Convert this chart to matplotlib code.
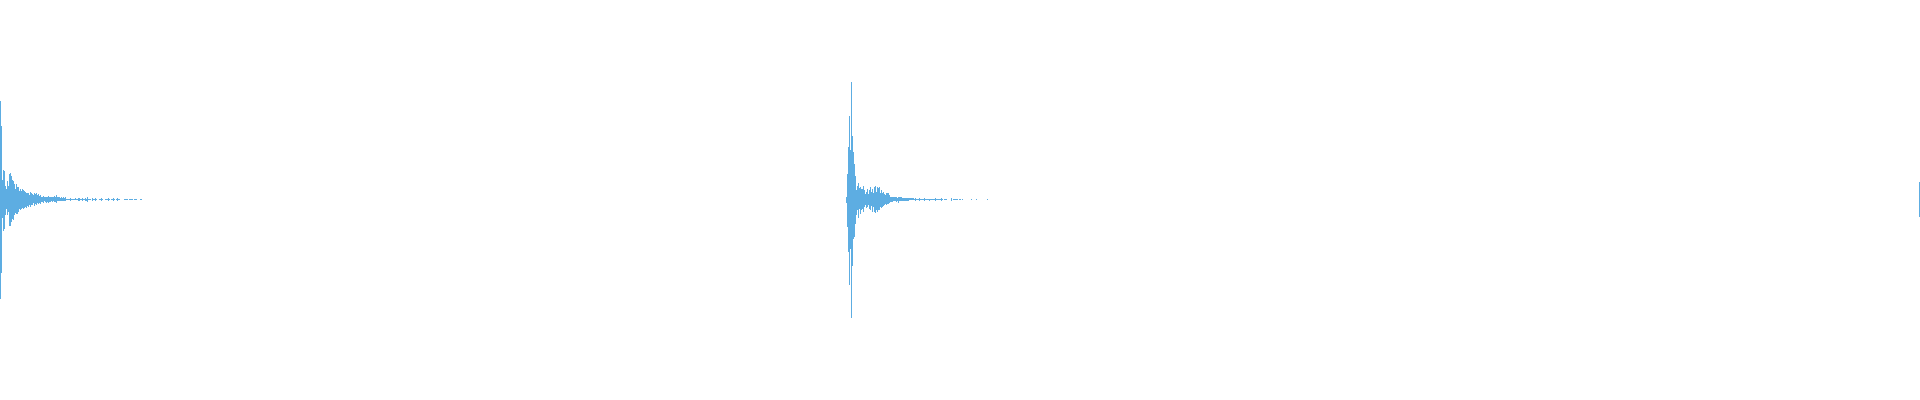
import numpy as np
import matplotlib
matplotlib.use("Agg")
import matplotlib.pyplot as plt

# waveform envelope, one value per drawn column, in percent of full scale
# (positive peak above the zero line, negative peak below it)
burst1_start = 0
burst1_pos = [
    49.2, 36.8, 10, 15, 14.5, 7, 5.5, 9.5, 7, 13,
    13.5, 12, 10, 9.5, 8, 5.5, 8, 6.5, 6.5, 4.5,
    5.5, 4.2, 5.2, 4.8, 4.2, 4, 3.5, 3.5, 3.5, 2.5,
    3.8, 3.1, 2.8, 2.2, 3.1, 2.8, 3.4, 2.2, 2.8, 1.8,
    2.2, 1.4, 1.1, 1.8, 1.1, 1.4, 1.1, 1.4, 1.9, 1.1,
    1.4, 1.1, 1.4, 1.1, 1.8, 1.4, 2.2, 1.1, 1.4, 1.1,
    0.8, 1.4, 0.9, 1.1, 0.9, 1.1, 0.4, 0.4, 0.4, 0.4,
    0.6, 0.4, 0.4, 0.4, 0.4, 0.6, 0.4, 0.4, 0.8, 0.8,
    0.4, 0.4, 0.8, 0.4, 0.4, 0.8, 0.4, 1.1, 0.4, 0.25,
    0.25, 0, 0.8, 0.25, 0.25, 0.6, 0.25, 0, 0, 0.25,
    0.25, 0.6, 0.25, 0, 0, 0.25, 0.25, 0.25, 0.6, 0.25,
    0, 0.25, 0.25, 0.6, 0.25, 0, 0.25, 0.6, 0.25, 0.25,
    0, 0, 0, 0, 0.25, 0.25, 0.25, 0.25, 0, 0.25,
    0.25, 0.25, 0.25, 0, 0.25, 0.25, 0.25, 0, 0, 0,
    0.25, 0.25,
]
burst1_neg = [
    49.5, 36.8, 9, 15.5, 14.5, 7.5, 4.5, 7.5, 6, 13,
    13, 11, 9.5, 10, 7.5, 6.5, 7, 7, 6, 4.5,
    5, 4.5, 4, 4.8, 4, 3.5, 4.2, 3, 3.5, 2.8,
    3.9, 2.9, 2.6, 1.9, 3.2, 2.2, 2.8, 1.9, 2.2, 1.6,
    2.2, 1.2, 1.1, 1.6, 0.9, 1.2, 1.6, 1.2, 1.9, 1.1,
    1.2, 0.9, 1.1, 0.9, 1.2, 1.1, 1.9, 0.9, 0.9, 0.8,
    0.6, 0.9, 0.6, 0.8, 0.6, 0.6, 0.3, 0.3, 0.3, 0.3,
    0.6, 0.3, 0.3, 0.3, 0.3, 0.4, 0.3, 0.3, 0.6, 0.6,
    0.3, 0.3, 0.6, 0.3, 0.3, 0.9, 0.6, 1.1, 0.4, 0.25,
    0.25, 0, 0.8, 0.25, 0.25, 0.6, 0.25, 0, 0, 0.25,
    0.25, 0.6, 0.25, 0, 0, 0.25, 0.25, 0.25, 0.6, 0.25,
    0, 0.25, 0.25, 0.6, 0.25, 0, 0.25, 0.6, 0.25, 0.25,
    0, 0, 0, 0, 0.25, 0.25, 0.25, 0.25, 0, 0.25,
    0.25, 0.25, 0.25, 0, 0.25, 0.25, 0.25, 0, 0, 0,
    0.25, 0.25,
]

burst2_start = 846
burst2_pos = [
    1.5, 13, 26.5, 42, 25, 59, 32, 24, 18, 12,
    5, 7, 8.5, 6, 6.5, 5.5, 5.5, 7, 4.8, 3,
    4, 5.5, 3, 4.8, 6.5, 4, 5.5, 3.5, 6.5, 6.8,
    3.9, 6.4, 5.6, 6.1, 3.1, 4.8, 3.1, 3.9, 2.8, 2.2,
    3.1, 3.4, 3.4, 2.2, 1.4, 1.4, 1.4, 1.1, 1.1, 1.1,
    1.4, 0.9, 1.2, 1.1, 1.1, 1.4, 0.8, 0.8, 0.8, 0.8,
    0.8, 0.8, 0.8, 0.6, 0.8, 0.8, 0.8, 0.8, 0.25, 0.9,
    0.25, 0.25, 0.25, 0.6, 0.25, 0.25, 0.25, 0.25, 0.6, 0.25,
    0.25, 0.25, 0.25, 0.5, 0.25, 0.25, 0.25, 0.25, 0.25, 0.6,
    0.25, 0.25, 0.25, 0.25, 0.25, 0.6, 0.25, 0, 0.25, 0.25,
    0.25, 0, 0, 0, 0, 0.75, 0, 0.25, 0.25, 0.25,
    0.25, 0.25, 0, 0.25, 0.25, 0, 0.25, 0, 0, 0,
    0, 0, 0, 0, 0, 0.25, 0, 0, 0, 0,
    0.25, 0, 0, 0, 0, 0, 0, 0, 0, 0,
    0, 0.25,
]
burst2_neg = [
    1.5, 13.5, 26, 42.5, 24.5, 59, 33, 19.5, 18.5, 12,
    7.5, 5, 9, 4.5, 7, 5, 4.5, 6, 3.5, 2.5,
    4, 3.5, 2.8, 4.5, 5.2, 3, 6, 3.5, 6, 6.6,
    5.2, 6.1, 5.2, 5.2, 3.6, 4.4, 3.6, 3.2, 2.9, 2.2,
    2.8, 2.2, 2.2, 1.6, 1.1, 1.1, 1.1, 0.8, 0.8, 0.6,
    1.4, 0.6, 1.6, 0.6, 0.6, 0.9, 0.6, 0.6, 0.6, 0.6,
    0.6, 0.6, 0.6, 0.4, 0.4, 0.4, 0.4, 0.4, 0.4, 0.8,
    0.25, 0.25, 0.25, 0.6, 0.25, 0.25, 0.25, 0.25, 0.6, 0.25,
    0.25, 0.25, 0.25, 0.5, 0.25, 0.25, 0.25, 0.25, 0.25, 0.6,
    0.25, 0.25, 0.25, 0.25, 0.25, 0.6, 0.25, 0, 0.25, 0.25,
    0.25, 0, 0, 0, 0, 0.75, 0, 0.25, 0.25, 0.25,
    0.25, 0.25, 0, 0.25, 0.25, 0, 0.25, 0, 0, 0,
    0, 0, 0, 0, 0, 0.25, 0, 0, 0, 0,
    0.25, 0, 0, 0, 0, 0, 0, 0, 0, 0,
    0, 0.25,
]

burst3_start = 1919
burst3_pos = [8.75]
burst3_neg = [8.75]

n_columns = 1920
WAVE = "#5DADE2"

fig = plt.figure(figsize=(19.2, 4), dpi=100)
ax = fig.add_axes([0, 0, 1, 1])
ax.set_axis_off()

for start, pos, neg in [(burst1_start, burst1_pos, burst1_neg),
                        (burst2_start, burst2_pos, burst2_neg),
                        (burst3_start, burst3_pos, burst3_neg)]:
    pos = np.array(pos, dtype=float)
    neg = np.array(neg, dtype=float)
    x = start + np.arange(len(pos))
    keep = (pos + neg) > 0
    ax.bar(x[keep], pos[keep] + neg[keep], bottom=-neg[keep], width=1,
           align="edge", color=WAVE, linewidth=0)

ax.set_xlim(0, n_columns)
ax.set_ylim(-100.25, 99.75)

fig.savefig("out.png", dpi=100, facecolor="white")
